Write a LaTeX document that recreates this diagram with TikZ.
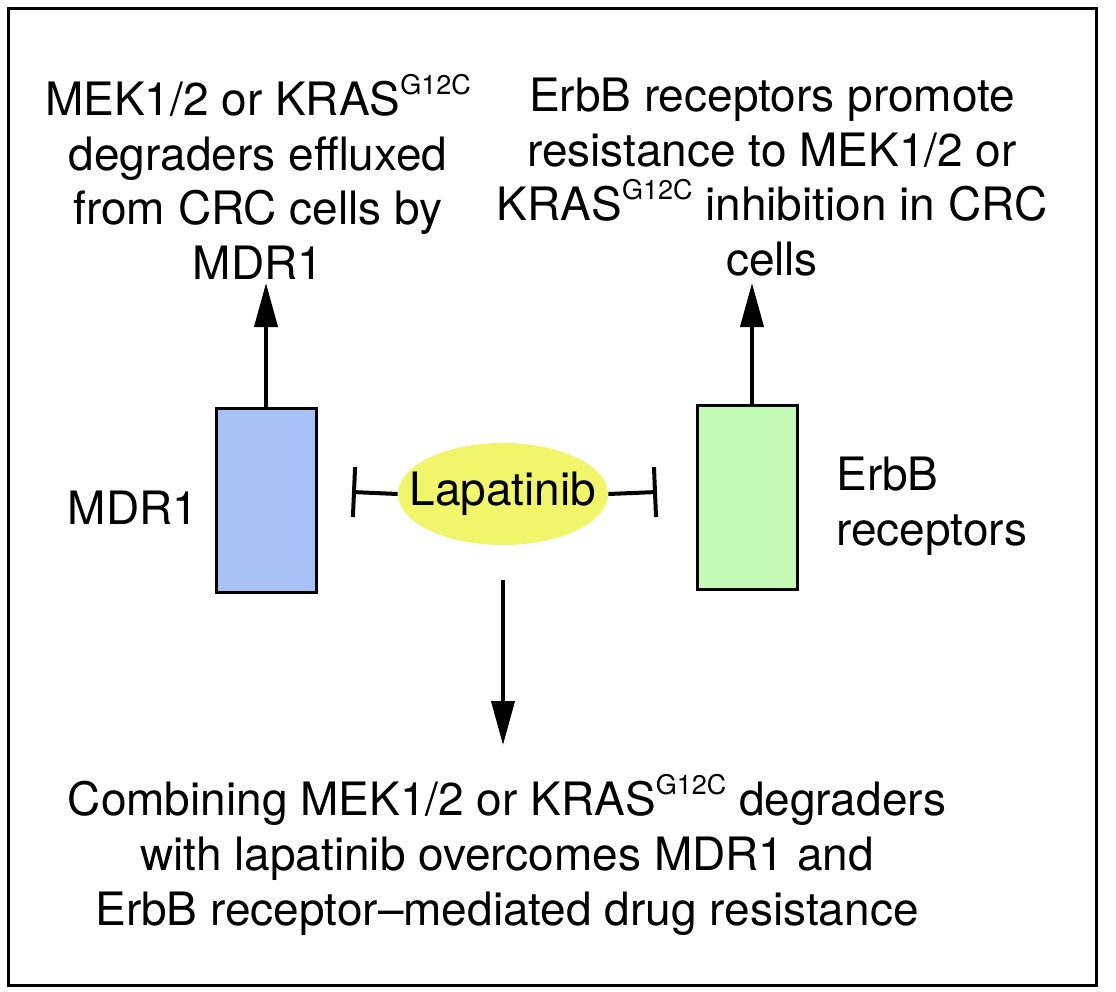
\documentclass[tikz,border=0pt]{standalone}
\usepackage{fontspec}
\setmainfont{TeX Gyre Heros}
\usepackage{xcolor}
\usepackage{tikz}
\usetikzlibrary{shapes.geometric,arrows.meta}

\definecolor{mdrblue}{RGB}{168,193,245}
\definecolor{erbgreen}{RGB}{196,250,182}
\definecolor{lapyellow}{RGB}{240,245,105}

% small raised mutation tag
\newcommand{\mutG}{\raisebox{10.5pt}{\fontsize{13.5}{14}\selectfont G12C}}

\begin{document}
\begin{tikzpicture}[
  x=0.5pt,y=-0.5pt,
  every node/.style={font=\fontsize{23}{27.3}\selectfont},
  textblock/.style={align=center,inner sep=0pt},
  receptor/.style={rectangle,draw,line width=1.5pt,minimum width=50pt,minimum height=92pt,inner sep=0pt},
  drug/.style={ellipse,fill=lapyellow,minimum width=105pt,minimum height=51pt,inner xsep=-10.5pt,inner ysep=4pt},
  line/.style={line width=1.5pt},
  arrow/.style={line width=2pt,-{Triangle[length=22pt,width=11.5pt]}},
  inhibit/.style={line width=2pt,-{Bar[width=25pt]}}
]

\useasboundingbox (0,0) rectangle (1116,992);
\draw[line] (8,8) rectangle (1096,985);

\node[textblock] (effluxtext) at (258,177) {MEK1/2 or KRAS\mutG\\degraders effluxed\\from CRC cells by\\MDR1};
\node[textblock] (erbtext) at (772,177) {ErbB receptors promote\\resistance to MEK1/2 or\\KRAS\mutG{} inhibition in CRC\\cells};

\node[receptor,fill=mdrblue] (mdr) at (266,500) {};
\node[receptor,fill=erbgreen] (erb) at (747,497) {};
\node[textblock] (mdrlabel) at (133,508) {MDR1};
\node[textblock,align=left,anchor=west] (erblabel) at (836,506) {ErbB\\receptors};

\node[drug] (lap) at (503,494) {Lapatinib};
\coordinate (mdrstop) at (352,492);
\coordinate (erbstop) at (657,492);
\coordinate (efflux) at (266,283);
\coordinate (erbup) at (752,283);
\coordinate (lapdown) at (503,745);

\node[textblock] (combtext) at (507,855) {Combining MEK1/2 or KRAS\mutG{} degraders\\with lapatinib overcomes MDR1 and\\ErbB receptor--mediated drug resistance};

\draw[arrow] (mdr.north) -- (efflux);
\draw[arrow] (erb.north -| erbup) -- (erbup);
\draw[inhibit] (lap.west) -- (mdrstop);
\draw[inhibit] (lap.east) -- (erbstop);
\draw[arrow] (503,580) -- (lapdown);

\end{tikzpicture}
\end{document}
